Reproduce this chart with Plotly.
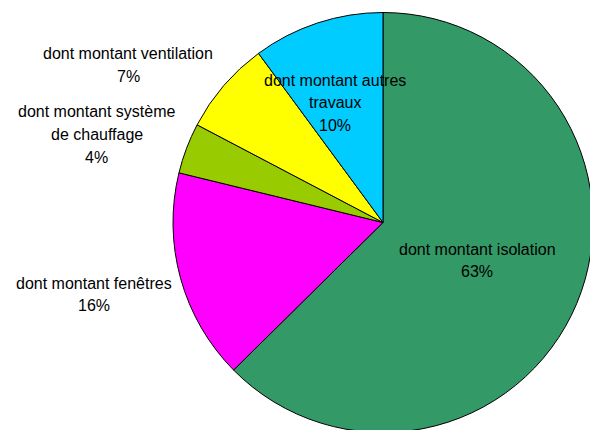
import plotly.graph_objects as go

# ---- data ----
labels = [
    "dont montant isolation",
    "dont montant fenêtres",
    "dont montant système<br>de chauffage",
    "dont montant ventilation",
    "dont montant autres<br>travaux",
]
values = [62.6, 16.2, 3.9, 7.2, 10.1]
colors = ["#339966", "#FF00FF", "#99CC00", "#FFFF00", "#00CCFF"]

# ---- layout constants (pixels) ----
W, H = 600, 440          # canvas slightly larger than the window; the pie overflows like the original
CX, CY, R = 383, 222.5, 210
# label anchor (centre x, y of first line) for each slice
label_pos = [(477, 249), (94, 283), (97, 112), (128, 54), (335, 80)]
LINE_GAP = 22.5
FONT = dict(family="Liberation Sans, Arial, sans-serif", size=16, color="#000000")

fig = go.Figure(
    go.Pie(
        labels=[l.replace("<br>", " ") for l in labels],
        values=values,
        marker=dict(colors=colors, line=dict(color="#000000", width=1)),
        sort=False,
        direction="clockwise",
        rotation=0,
        textinfo="none",
        hoverinfo="skip",
        showlegend=False,
        domain=dict(x=[(CX - R) / W, (CX + R) / W],
                    y=[(H - CY - R) / H, (H - CY + R) / H]),
    )
)

total = sum(values)
annotations = []
for lab, v, (px, py) in zip(labels, values, label_pos):
    lines = lab.split("<br>") + [f"{round(100 * v / total):d}%"]
    for i, t in enumerate(lines):
        annotations.append(dict(
            text=t, x=px / W, y=1 - (py + i * LINE_GAP) / H,
            xref="paper", yref="paper", xanchor="center", yanchor="middle",
            showarrow=False, font=FONT,
        ))

fig.update_layout(
    width=W, height=H,
    margin=dict(l=0, r=0, t=0, b=0),
    paper_bgcolor="#FFFFFF",
    plot_bgcolor="#FFFFFF",
    annotations=annotations,
)

fig.write_html(
    "out.html",
    config={"displayModeBar": False, "staticPlot": True},
    post_script="document.body.style.margin='0';document.body.style.overflow='hidden';",
)
